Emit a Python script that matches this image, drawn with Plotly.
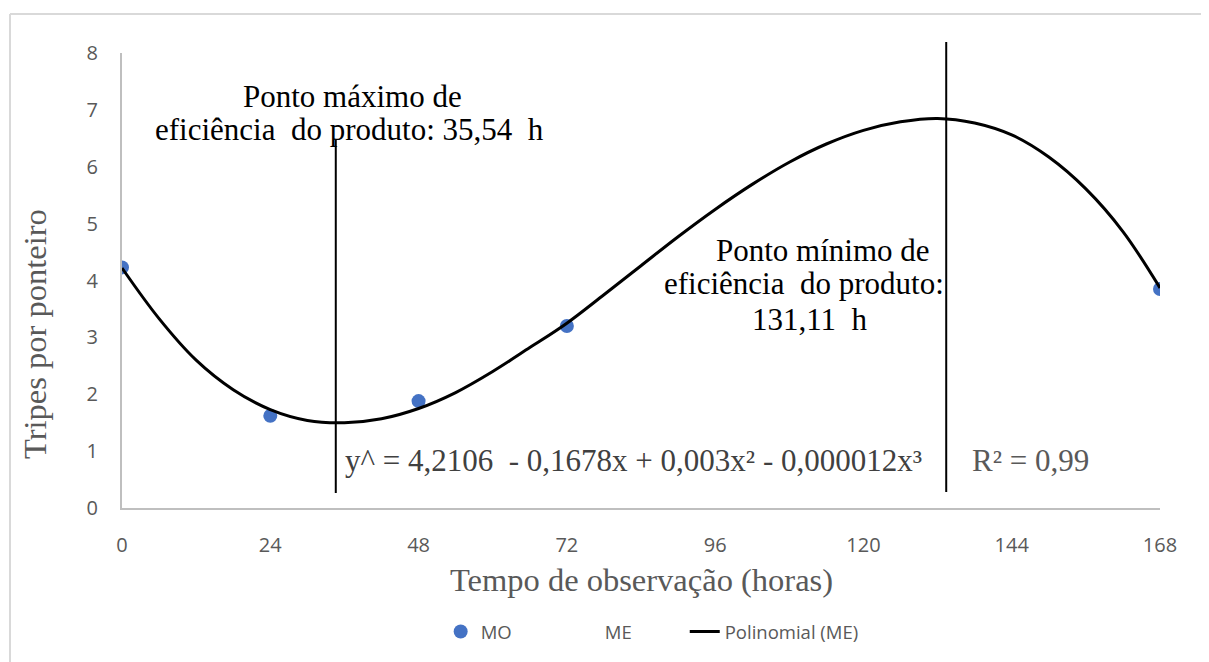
import plotly.graph_objects as go

# ---- data ----
hours_mo = [0, 24, 48, 72, 168]
thrips_mo = [4.23, 1.62, 1.88, 3.20, 3.85]

trend_x = [0, 6, 12, 18, 24, 30, 36, 42, 48, 54, 60, 66, 72, 78, 84, 90, 96,
           102, 108, 114, 120, 126, 132, 138, 144, 150, 156, 162, 168]
trend_y = [4.22, 3.33, 2.60, 2.08, 1.73, 1.54, 1.50, 1.57, 1.75, 2.03, 2.40,
           2.82, 3.25, 3.75, 4.26, 4.77, 5.25, 5.69, 6.08, 6.40, 6.64, 6.79,
           6.85, 6.77, 6.56, 6.17, 5.61, 4.86, 3.87]

x_ticks = [0, 24, 48, 72, 96, 120, 144, 168]
y_ticks = [0, 1, 2, 3, 4, 5, 6, 7, 8]

max_eff_x = 34.6      # drawn position of "35,54 h" marker line
min_eff_x = 133.4     # drawn position of "131,11 h" marker line

SERIF = "Liberation Serif, Times New Roman, serif"
SANS = "Open Sans, Liberation Sans, sans-serif"
GRAY = "#595959"
PAD = "\u00a0" * 10

fig = go.Figure()
fig.add_trace(go.Scatter(x=hours_mo, y=thrips_mo, mode="markers", name="MO" + PAD,
                         marker=dict(color="#4472C4", size=14)))
fig.add_trace(go.Scatter(x=[None], y=[None], mode="markers", name="ME" + PAD,
                         marker=dict(color="rgba(0,0,0,0)", size=1)))
fig.add_trace(go.Scatter(x=trend_x, y=trend_y, mode="lines", name="Polinomial (ME)",
                         line=dict(color="black", width=3, shape="spline")))

fig.update_layout(
    width=1209, height=662,
    margin=dict(l=114, r=57, t=45, b=162),
    paper_bgcolor="white", plot_bgcolor="white",
    showlegend=True,
    legend=dict(orientation="h", x=0.307, xanchor="left", y=-0.2725, yanchor="middle",
                font=dict(family=SANS, size=18.5, color=GRAY),
                bgcolor="rgba(0,0,0,0)"),
    xaxis=dict(range=[0, 168], tickvals=x_ticks, showgrid=False, zeroline=False,
               showline=True, linecolor="#bfbfbf", linewidth=2,
               ticks="", ticklabelstandoff=18,
               tickfont=dict(family=SANS, size=20, color=GRAY)),
    yaxis=dict(range=[0, 8], tickvals=y_ticks, showgrid=False, zeroline=False,
               showline=True, linecolor="#bfbfbf", linewidth=2,
               ticks="", ticklabelstandoff=18,
               tickfont=dict(family=SANS, size=20, color=GRAY)),
)

shapes = [
    # outer chart frame (top and left edges visible)
    dict(type="line", xref="paper", yref="paper", x0=-0.1079, x1=1.06, y0=1.0857, y1=1.0857,
         line=dict(color="#d9d9d9", width=2)),
    dict(type="line", xref="paper", yref="paper", x0=-0.1079, x1=-0.1079, y0=1.0857, y1=-0.36,
         line=dict(color="#d9d9d9", width=2)),
    # vertical marker lines
    dict(type="line", xref="x", yref="paper", x0=max_eff_x, x1=max_eff_x, y0=0.033, y1=0.809,
         line=dict(color="black", width=2)),
    dict(type="line", xref="x", yref="paper", x0=min_eff_x, x1=min_eff_x, y0=0.035, y1=1.024,
         line=dict(color="black", width=2)),
]
fig.update_layout(shapes=shapes)


def note(text, x, y, anchor="center", size=31, color="black"):
    return dict(text=text, x=x, y=y, xref="x", yref="y", showarrow=False,
                xanchor=anchor, yanchor="middle",
                font=dict(family=SERIF, size=size, color=color))


annotations = [
    note("Ponto máximo de", 37.3, 7.24),
    note("eficiência  do produto: 35,54  h", 36.8, 6.65),
    note("Ponto mínimo de", 113.4, 4.52),
    note("eficiência  do produto:", 110.4, 3.94),
    note("131,11  h", 111.3, 3.31),
    note("y^ = 4,2106  - 0,1678x + 0,003x² - 0,000012x³", 35.77, 0.83,
         anchor="left", size=31, color="#404040"),
    note("R² = 0,99", 137.25, 0.83, anchor="left", size=31, color=GRAY),
    dict(text="Tempo de observação (horas)", x=0.5, y=-0.158, xref="paper", yref="paper",
         showarrow=False, xanchor="center", yanchor="middle",
         font=dict(family=SERIF, size=32.5, color=GRAY)),
    dict(text="Tripes por ponteiro", x=-0.084, y=0.382, xref="paper", yref="paper",
         showarrow=False, xanchor="center", yanchor="middle", textangle=-90,
         font=dict(family=SERIF, size=32.5, color=GRAY)),
]
fig.update_layout(annotations=annotations)

fig.write_html("out.html")
